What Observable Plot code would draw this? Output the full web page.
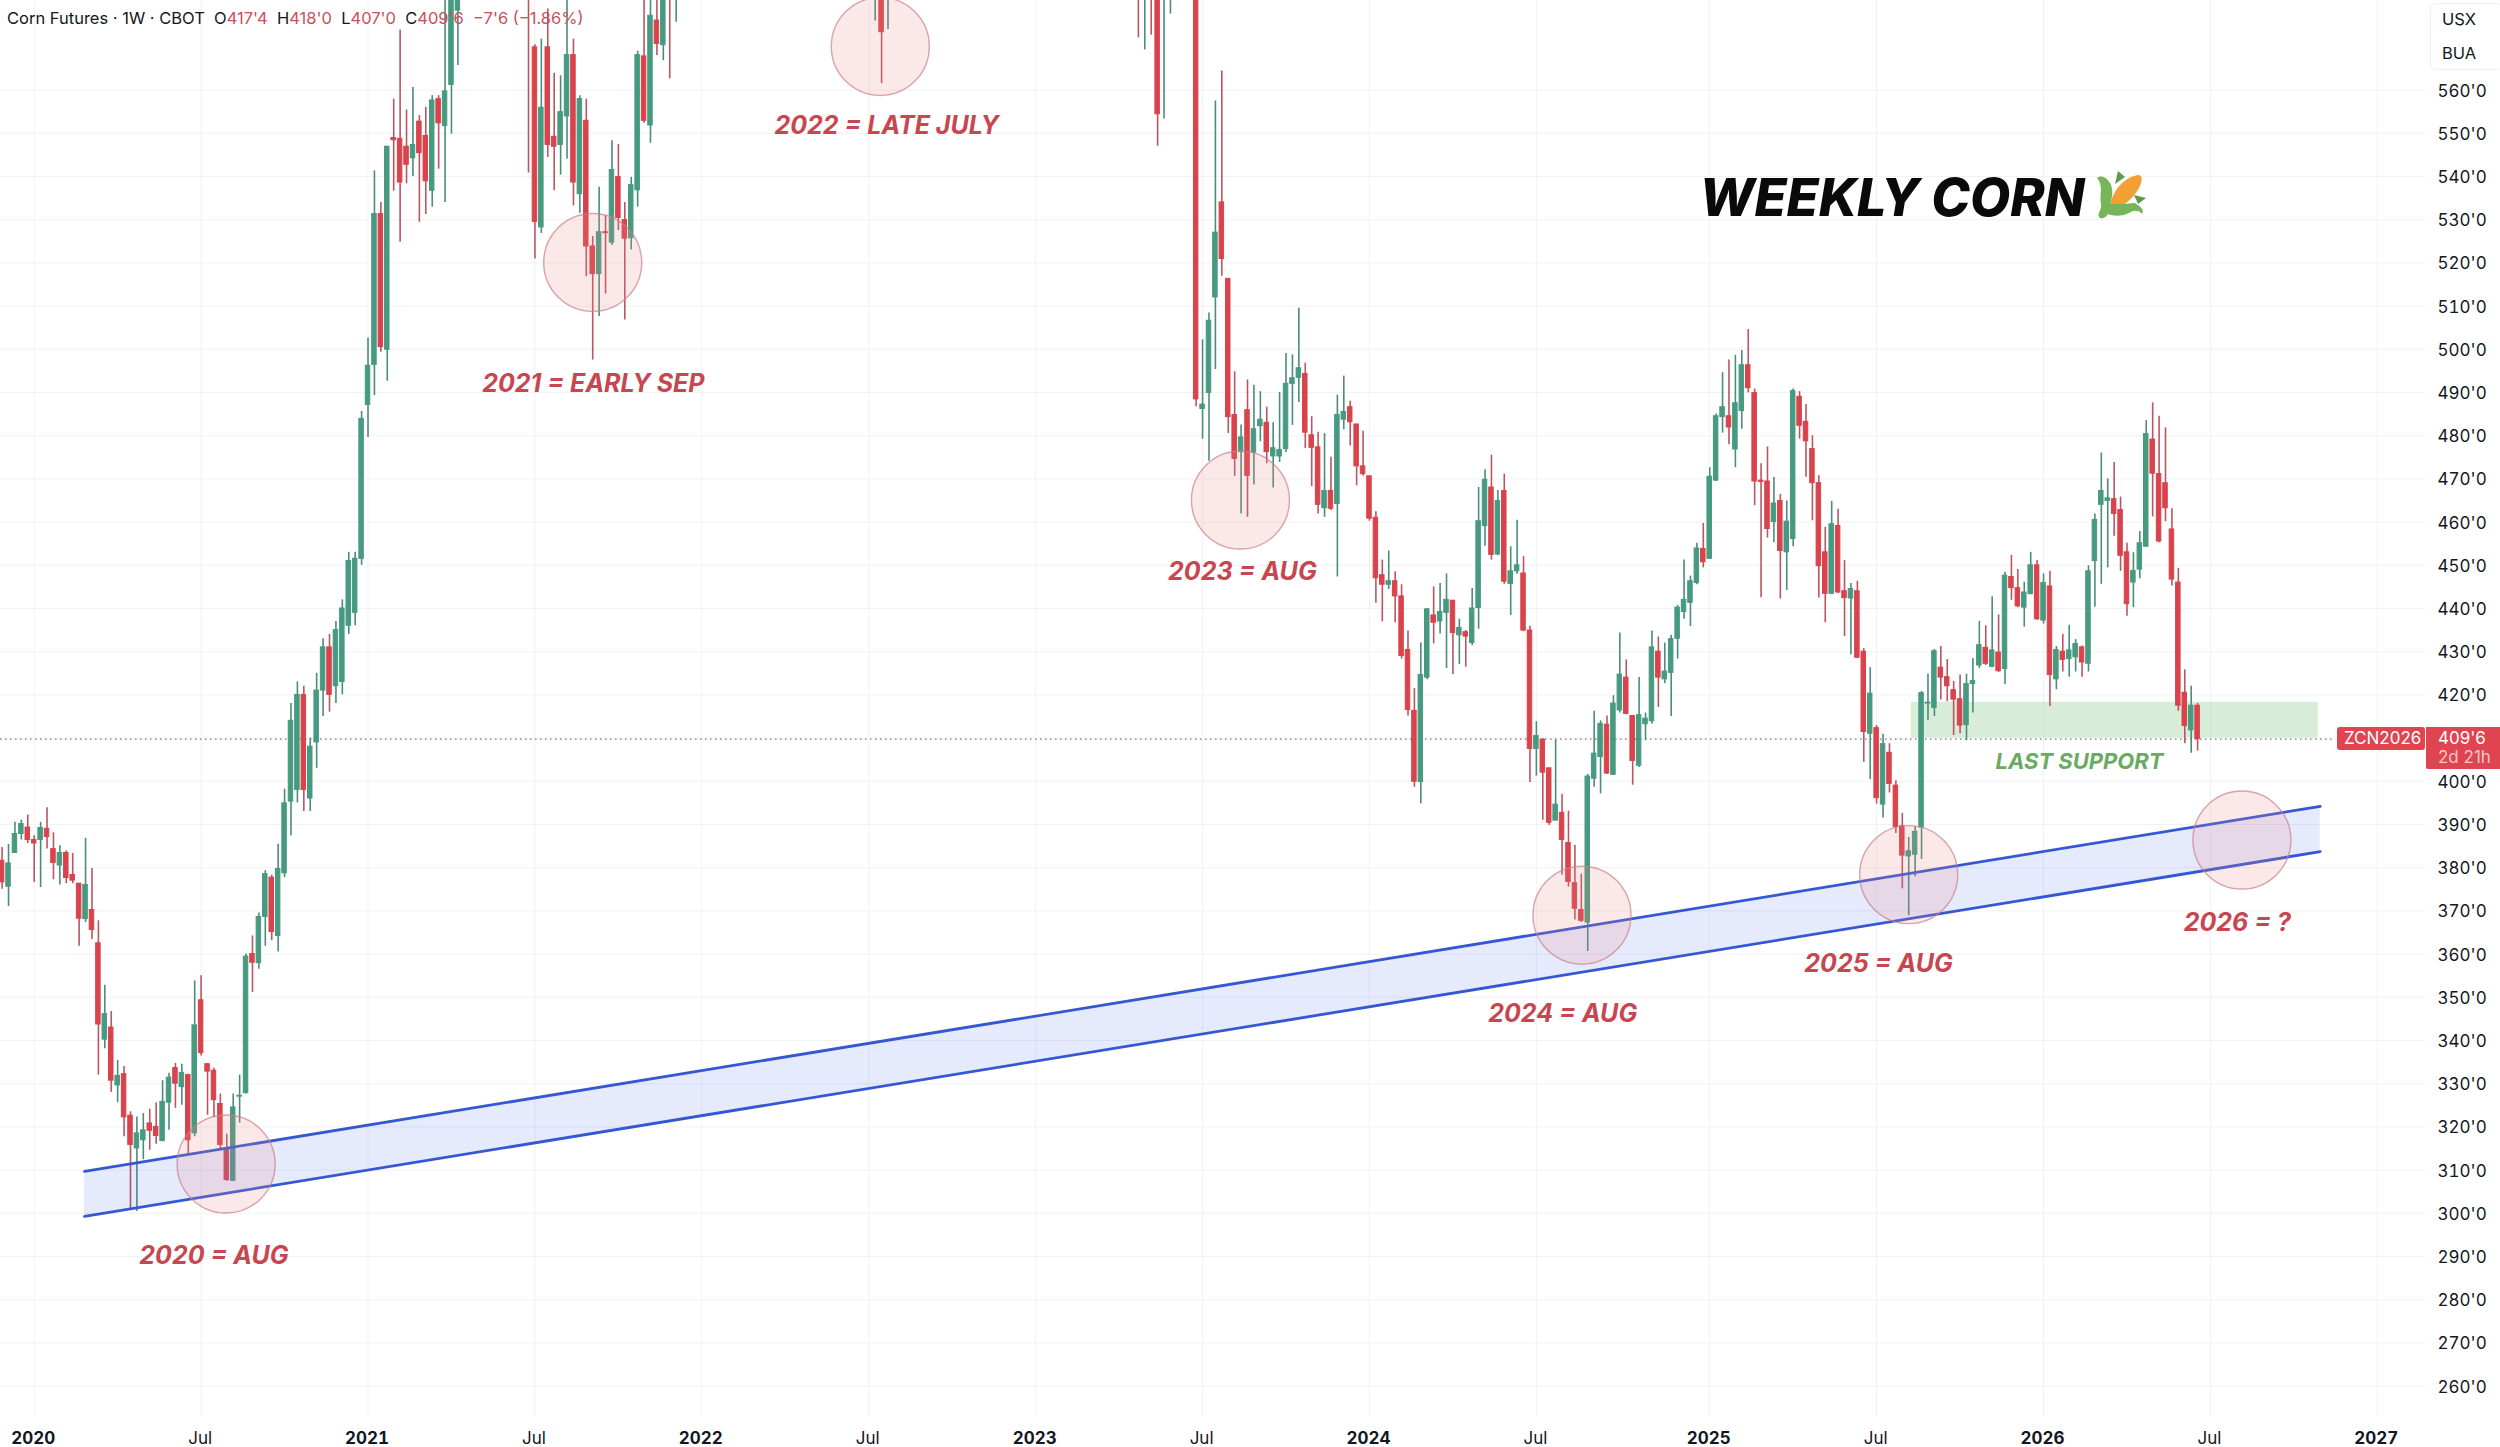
<!DOCTYPE html>
<html>
<head>
<meta charset="utf-8">
<script src="https://cdn.jsdelivr.net/npm/d3@7"></script>
<script src="https://cdn.jsdelivr.net/npm/@observablehq/plot@0.6"></script>
<style>
html,body{margin:0;padding:0;background:#fff;width:2500px;height:1447px;overflow:hidden;font-family:Inter,sans-serif}
#wrap{position:relative;width:2500px;height:1447px}
.legend{position:absolute;left:7px;top:7px;font-size:16.5px;line-height:22px;color:#131722;white-space:pre}
.legend i{font-style:normal;color:#c8505c}
.unit{position:absolute;left:2430px;top:3px;width:72px;height:67px;background:#fff;border:1px solid #f0f1f3;border-radius:6px;box-sizing:border-box;font-size:16.5px;color:#131722}
.unit span{position:absolute;left:11px}
.tag{position:absolute;background:#df4450;color:#fff;font-size:17px;box-sizing:border-box}
.tag span{position:absolute;white-space:pre}
.corn{position:absolute;left:2096px;top:171px;width:50px;height:49px}
</style>
</head>
<body>
<div id="wrap"></div>
<script>
// Bar blocks: week numbers counted from the bar of 2 Dec 2019. Weeks lying wholly above the visible range are left out.
const weekBlocks = [[0,71],[82,105],[136,138],[177,182],[186,342]];
const opens = [
381.6,375.6,383.4,387.8,389.3,386.4,386.4,389.0,384.3,380.5,383.4,378.3,376.3,368.1,370.2,362.5,340.2,343.0,329.6,332.2,322.6,315.0,316.9,320.8,320.0,316.7,325.6,333.6,329.2,332.0,318.5,349.3,334.5,333.0,325.3,315.0,307.5,327.0,327.8,360.0,357.9,368.6,377.7,364.2,378.7,395.3,
398,420,396,409,421,431,422,423,436,439,451.5,487.1,496.4,531.3,499.9,548.9,548.7,546.9,544.2,552.7,549.4,536.7,557.9,551.7,561.2,578.4,
600,569.9,528.2,569.9,549.2,547.3,553.9,568.1,535.9,552.9,523.8,517.4,527.1,524.7,539.9,529.9,525.7,536.8,567.8,551.8,576.1,570.4,600,590,
590,600,590,
600,590,600,600,590,590,
600,486.2,489.9,512.0,534.0,516.3,484.8,476.2,485.9,476.1,482.2,483.0,475.2,475.2,476.9,492.0,493.4,494.3,480.1,477.3,463.2,467.2,464.2,483.7,486.6,482.6,472.9,470.6,461.0,447.7,445.5,446.3,442.8,430.4,416.3,399.8,424.0,438.4,437.0,439.0,441.8,433.8,434.5,432.0,440.1,459.1,468.0,452.5,467.2,445.7,448.6,448.1,434.9,407.5,409.6,403.0,390.9,392.7,385.7,376.4,370.2,367.3,400.6,405.6,413.1,401.5,416.4,424.0,415.1,403.6,413.2,413.9,430.0,423.6,425.1,433.0,439.2,441.3,445.9,453.8,451.5,469.6,484.3,484.5,476.8,485.7,496.3,489.9,469.6,469.4,460.0,464.9,453.0,456.1,489.0,483.2,476.9,469.0,453.0,443.4,459.1,444.0,442.3,444.0,430.0,411.0,412.3,394.6,406.6,399.0,389.6,382.6,383.0,389.3,418.0,417.0,426.3,424.1,421.1,419.0,413.0,422.5,426.8,430.9,426.5,429.8,426.0,447.3,444.7,440.2,443.3,450.0,437.2,445.1,423.6,430.0,428.3,428.7,431.0,427.2,451.0,464.0,464.9,465.3,462.8,453.0,446.0,449.0,454.3,479.1,471.1,469.0,458.3,446.0,420.5,411.8,417.5];
const closes = [
376.6,381.0,387.8,390.1,386.4,385.6,389.2,387.1,381.1,383.4,377.6,377.0,368.2,376.0,365.6,343.7,346.1,330.7,331.8,322.2,315.8,318.5,319.2,319.1,317.9,325.8,331.4,330.0,332.5,316.9,343.5,337.1,332.8,326.2,315.8,307.7,324.5,327.2,359.4,358.0,368.6,378.5,365.1,379.7,394.9,414,
420,398,408,421,431,420,435,440,451,451.5,483.9,496.2,531.3,500.5,546.9,548.4,538.6,542.7,547.3,545.4,538.9,557.6,552.3,559.7,600,600,
585,529.5,555.9,547.3,546.9,554.9,568.1,538.6,557.9,523.8,517.4,527.1,526.9,541.5,530.4,525.6,538.0,568.1,552.9,577.2,570.7,585,585,600,
600,573.4,600,
590,600,590,554.4,600,600,
488.4,487.2,506.6,527.0,520.9,484.3,474.6,479.6,470.7,481.5,483.7,476.2,477.1,476.7,492.0,493.3,495.6,480.7,477.2,464.0,467.2,463.1,484.8,485.5,483.1,472.9,471.1,460.8,447.0,445.5,446.3,442.8,429.0,416.5,399.9,424.6,439.8,436.7,439.2,442.0,434.3,435.5,433.5,440.0,460.2,469.8,452.4,464.9,446.2,448.6,450.0,434.9,407.5,410.5,402.0,390.4,394.6,386.4,376.7,370.5,367.7,401.1,406.4,413.3,401.8,418.0,424.7,415.6,404.7,415.3,414.5,431.0,424.0,425.4,432.9,440.2,442.0,446.3,453.9,450.7,470.5,484.5,486.6,481.9,487.5,496.3,491.0,469.4,469.3,458.4,464.3,453.3,460.1,490.3,482.3,478.7,469.0,449.8,443.4,459.5,443.7,442.4,444.5,428.6,411.4,420.3,396.1,408.6,399.4,389.4,382.8,383.8,388.3,420.4,418.2,430.1,424.0,422.0,418.9,412.9,422.5,423.2,431.5,427.2,430.3,425.5,447.6,444.7,440.5,443.7,450.0,437.5,445.9,424.6,430.4,428.1,430.3,431.8,427.5,448.6,460.5,467.2,465.5,461.9,452.2,441.0,448.7,455.1,480.4,471.2,455.5,463.2,446.7,417.5,412.8,417.5,409.75];
const highs = [
384.7,385.4,390.5,391.0,392.2,387.4,390.5,393.9,388.1,385.1,383.9,383.3,376.3,386.8,379.8,367.7,352.8,346.7,335.4,334.0,323.5,322.3,323.1,324.1,325.6,330.7,332.4,334.7,334.5,332.2,353.8,355.0,334.7,333.6,327.6,318.3,327.6,332.0,360.0,364.2,369.5,379.3,378.3,385.4,398.2,418,
423,422,410,425,433,434,437,442,453,453,485.6,502.6,541.3,534.0,546.9,557.9,573.9,555.4,560.6,554.1,556.0,558.7,558.7,600,600,600,
605,570.5,571.8,578.8,563.9,563.3,590,571.8,558.7,557.9,526.1,537.5,530.9,548.3,547.4,534.0,539.8,569.0,590,590,585,585,605,605,
605,605,605,
605,605,605,605,605,605,
605,502.2,508.4,557.5,564.4,516.3,494.8,482.5,492.9,491.7,490.2,486.6,483.0,490.0,499.0,498.7,509.5,496.8,484.4,480.8,480.5,475.0,489.4,493.8,488.0,482.6,481.0,470.6,462.4,451.2,453.3,448.5,445.5,434.8,421.5,432.0,440.0,445.0,445.8,448.0,441.8,437.5,434.9,444.6,468.0,472.1,475.5,467.3,471.1,454.3,460.4,452.0,435.9,413.8,409.9,403.0,409.6,397.0,393.1,385.2,378.5,401.6,416.2,414.0,415.1,419.8,434.3,428.1,415.1,424.0,415.8,434.8,433.4,432.0,433.8,440.7,451.2,447.5,455.1,459.7,472.6,485.0,494.6,497.5,498.6,499.7,504.6,490.8,473.5,477.4,470.3,466.4,464.9,490.8,490.2,487.2,480.0,470.7,458.8,464.8,463.0,451.1,445.8,446.3,430.7,426.3,412.9,410.9,408.7,400.1,392.6,387.0,389.5,420.8,424.8,430.5,431.2,428.2,423.1,424.6,424.8,428.4,437.0,436.0,442.7,438.5,448.4,452.3,449.0,446.1,453.0,451.1,448.0,448.6,431.2,434.0,436.1,432.8,431.3,449.9,461.9,476.0,470.0,473.8,465.8,455.1,452.9,457.8,483.5,487.6,484.5,481.8,463.1,449.3,425.8,422.0,418.0];
const lows = [
375.0,371.0,383.4,386.4,385.6,376.6,375.4,384.3,377.2,376.0,376.3,376.3,361.8,367.3,363.4,332.0,338.1,328.0,325.6,317.7,300.9,300.4,312.4,314.6,316.0,316.6,319.2,324.3,325.0,313.7,317.7,336.4,322.7,322.2,315.0,307.4,307.5,320.9,327.6,351.1,356.5,361.8,363.1,360.5,377.7,387.4,
395,393,393,403,415,416,418,420,434,436,450,479.6,489.3,499.3,492.6,536.6,524.8,538.3,540.0,529.4,531.2,532.9,541.7,534.0,549.8,565.7,
540.8,520.9,526.8,544.4,536.7,540.3,544.0,533.2,531.5,516.8,497.5,507.6,512.8,524.0,527.5,506.8,523.0,532.9,552.3,547.7,568.0,566.8,562.6,575.7,
576,561.5,574,
572.1,569.3,572.7,547.0,553.3,577.6,
486.7,479.2,474.1,495.3,516.9,480.5,470.6,461.9,461.1,468.6,478.6,473.5,467.9,473.8,476.1,482.4,487.7,477.0,468.2,461.9,461.1,462.7,447.3,481.4,477.6,468.4,470.6,460.2,441.2,436.9,444.4,436.7,428.3,415.1,398.6,394.8,423.5,431.8,434.1,426.1,424.7,427.0,426.4,431.4,435.2,454.4,451.2,452.2,445.6,438.4,447.9,434.6,399.7,401.2,391.0,389.8,390.9,378.3,375.5,367.9,367.3,360.6,398.6,397.1,401.6,401.4,415.8,415.4,399.1,403.2,409.4,413.2,417.1,422.6,415.0,428.3,437.5,435.8,445.5,449.4,451.5,469.4,480.6,477.9,472.6,481.5,489.9,463.8,442.5,456.3,455.2,442.2,444.2,454.3,479.2,470.4,460.3,442.4,436.7,443.2,443.4,433.5,429.3,428.4,404.4,400.4,394.7,391.5,397.3,387.9,375.1,368.9,377.9,381.9,414.1,415.0,418.8,418.4,410.6,411.0,409.4,415.8,426.1,426.8,426.3,425.2,422.4,441.9,440.2,435.7,443.3,437.2,436.4,417.3,421.2,425.3,424.1,425.3,424.1,425.3,440.3,445.6,449.4,456.7,448.6,438.2,440.2,446.9,454.3,461.2,455.2,460.1,445.2,416.2,408.7,406.5,407.0];

const priceTicks = d3.range(260, 561, 10);
const yearTickDates = ["2020-01-06","2021-01-04","2022-01-03","2023-01-02","2024-01-01","2025-01-06","2026-01-05","2027-01-04"];
const julyTickDates = ["2020-07-06","2021-07-05","2022-07-04","2023-07-03","2024-07-01","2025-07-07","2026-07-06"];

const lastPrice = 409.75;
const channelWeeks = [12.84, 361.1];
const channelUpper = [309.7, 394.2];
const channelLower = [299.3, 383.7];
const supportWeeks = [297.4, 360.8];
const supportPrices = [410.0, 418.3];

const circleWeeks  = [34.9, 92.0, 136.8, 192.9, 246.1, 297.0, 348.9];
const circlePrices = [311.4, 520.1, 570.1, 465.1, 369.0, 378.4, 386.4];

const noteTexts  = ["2020 = AUG","2021 = EARLY SEP","2022 = LATE JULY","2023 = AUG","2024 = AUG","2025 = AUG","2026 = ?"];
const noteWeeks  = [33.0, 92.1, 137.8, 193.2, 243.1, 292.3, 348.2];
const notePrices = [290.0, 492.0, 551.7, 448.4, 346.2, 357.6, 367.2];

const RED = "#d9434c", GREEN = "#479a80", WICKR = "#bb5560", WICKG = "#4a8d79", GRID = "#f1f2f4", NOTE = "#c8464f";
const WEEK = 7 * 864e5, T0 = Date.UTC(2019, 11, 2);
const dateAt = w => new Date(T0 + w * WEEK);
const parse = s => new Date(s + "T00:00:00Z");

const weeks = weekBlocks.flatMap(([a, b]) => d3.range(a, b + 1));
const bars = weeks.map((w, k) => ({date: dateAt(w), x1: dateAt(w - 0.35), x2: dateAt(w + 0.35),
  open: opens[k], close: closes[k], high: highs[k], low: lows[k]}));
const up = bars.filter(d => d.close >= d.open), down = bars.filter(d => d.close < d.open);
const channel = channelWeeks.map((w, k) => ({date: dateAt(w), hi: channelUpper[k], lo: channelLower[k]}));
const circles = circleWeeks.map((w, k) => ({date: dateAt(w), price: circlePrices[k]}));
const notes = noteTexts.map((t, k) => ({date: dateAt(noteWeeks[k]), price: notePrices[k], t}));
const allDates = [...yearTickDates, ...julyTickDates].map(parse);
const noteStyle = {fontFamily: "Inter", fontWeight: 700, fontStyle: "italic"};

const chart = Plot.plot({
  width: 2500, height: 1447,
  marginLeft: 0, marginRight: 75, marginTop: 0, marginBottom: 31,
  style: {fontFamily: "Inter", background: "#fff", overflow: "hidden"},
  x: {type: "utc", domain: [dateAt(-0.25), dateAt(377.5)], range: [0, 2425]},
  y: {domain: [252.96, 580.74], range: [1416, 0]},
  marks: [
    Plot.ruleY(priceTicks, {stroke: GRID, strokeWidth: 1}),
    Plot.ruleX(allDates, {stroke: GRID, strokeWidth: 1}),
    Plot.axisY({anchor: "right", ticks: priceTicks, tickFormat: d => `${d}'0`, tickSize: 0, tickPadding: 12, dy: 1, fontSize: 17, fill: "#131722", label: null}),
    Plot.axisX({ticks: yearTickDates.map(parse), tickFormat: d => String(d.getUTCFullYear()), tickSize: 0, tickPadding: 15, dx: -1, fontSize: 17, fontWeight: 700, fill: "#131722", label: null}),
    Plot.axisX({ticks: julyTickDates.map(parse), tickFormat: () => "Jul", tickSize: 0, tickPadding: 15, dx: -1, fontSize: 17, fill: "#131722", label: null}),
    Plot.rect([0], {x1: () => dateAt(supportWeeks[0]), x2: () => dateAt(supportWeeks[1]), y1: () => supportPrices[0], y2: () => supportPrices[1], fill: "#4caf50", fillOpacity: 0.22}),
    Plot.ruleY([lastPrice], {x1: dateAt(-0.25), x2: dateAt(363.3), stroke: "#8a6a6a", strokeWidth: 1.2, strokeDasharray: "1.5 3.5"}),
    Plot.ruleX(up, {x: "date", y1: "low", y2: "high", stroke: WICKG, strokeWidth: 1.6, clip: true}),
    Plot.ruleX(down, {x: "date", y1: "low", y2: "high", stroke: WICKR, strokeWidth: 1.6, clip: true}),
    Plot.rect(up, {x1: "x1", x2: "x2", y1: "open", y2: "close", fill: GREEN, stroke: GREEN, strokeWidth: 1, clip: true}),
    Plot.rect(down, {x1: "x1", x2: "x2", y1: "open", y2: "close", fill: RED, stroke: RED, strokeWidth: 1, clip: true}),
    Plot.areaY(channel, {x: "date", y1: "lo", y2: "hi", fill: "#3f5fe8", fillOpacity: 0.135}),
    Plot.lineY(channel, {x: "date", y: "hi", stroke: "#3557d2", strokeWidth: 2.8}),
    Plot.lineY(channel, {x: "date", y: "lo", stroke: "#3557d2", strokeWidth: 2.8}),
    Plot.dot(circles, {x: "date", y: "price", r: 49, fill: "#e88a8f", fillOpacity: 0.19, stroke: "#c9808a", strokeOpacity: 0.7, strokeWidth: 1.4, clip: true}),
    Plot.text(notes, {x: "date", y: "price", text: "t", fontSize: 25, fill: NOTE, ...noteStyle}),
    Plot.text(["LAST SUPPORT"], {x: () => dateAt(323.6), y: () => 404.5, fontSize: 22, fill: "#69ab62", ...noteStyle}),
    Plot.text(["WEEKLY CORN"], {x: () => dateAt(264.4), y: () => 534.7, textAnchor: "start", fontSize: 52, fill: "#0a0a0a", fontFamily: "Inter", fontWeight: 800, fontStyle: "italic"})
  ]
});

const wrap = document.getElementById("wrap");
wrap.append(chart);
wrap.insertAdjacentHTML("beforeend", `
<div class="legend">Corn Futures · 1W · CBOT  O<i>417'4</i>  H<i>418'0</i>  L<i>407'0</i>  C<i>409'6</i>  <i>−7'6 (−1.86%)</i></div>
<div class="unit"><span style="top:5px">USX</span><span style="top:39px">BUA</span></div>
<div class="tag" style="left:2337px;top:727px;width:88px;height:23px;border-radius:3px"><span style="left:7px;top:1px">ZCN2026</span></div>
<div class="tag" style="left:2426px;top:727px;width:74px;height:42px;border-radius:0 0 0 2px"><span style="left:12px;top:1px">409'6</span><span style="left:12px;top:20px;color:#f8c6ca">2d 21h</span></div>
<svg class="corn" viewBox="0 0 50 49">
  <path d="M19 13 L22 0 L29 6 Z" fill="#5d9a4c"/><path d="M38 24 L50 27 L42 33 Z" fill="#5d9a4c"/>
  <path d="M14 34 C17 18 30 5 43 4 C47 5 46 11 43 17 C37 28 26 37 16 38 Z" fill="#f2a034"/>
  <path d="M1 7 C7 3 12 8 15 14 C18 22 15 30 14 33 C20 33 31 33 39 32 C43 35 49 38 46 43 C43 39 38 39 33 42 C25 46 17 45 12 43 C10 47 5 49 3 46 C1 42 6 39 5 33 C3 25 8 14 1 7 Z" fill="#78b45a"/>
</svg>`);
</script>
</body>
</html>
